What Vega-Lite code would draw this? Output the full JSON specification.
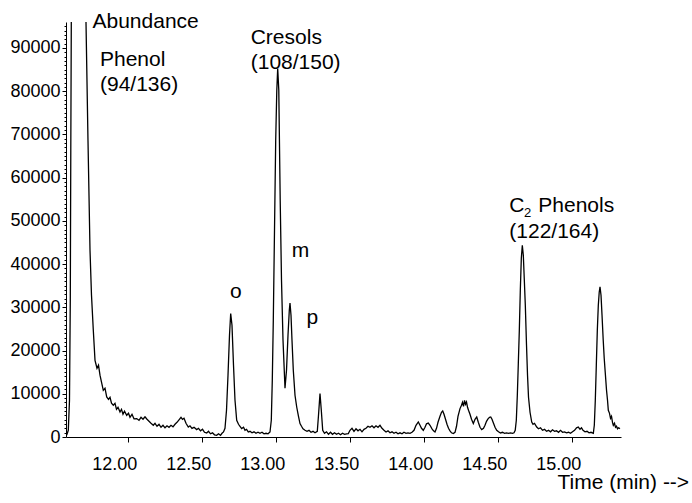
{
  "$schema": "https://vega.github.io/schema/vega-lite/v6.json",
  "width": 555,
  "height": 415,
  "autosize": {"type": "none"},
  "padding": {"left": 66, "top": 22, "right": 71, "bottom": 66},
  "background": "white",
  "config": {"view": {"stroke": null}, "font": "Liberation Sans"},
  "layer": [
    {
      "data": {"values": [
        {"time":11.58,"abundance":160},{"time":11.5868,"abundance":620},{"time":11.5955,"abundance":1550},{"time":11.6036,"abundance":8500},{"time":11.609,"abundance":31600},{"time":11.6124,"abundance":66300},{"time":11.6158,"abundance":96000},{"time":11.6172,"abundance":110000},{"time":11.6611,"abundance":300000},{"time":11.7118,"abundance":110000},{"time":11.7151,"abundance":96000},{"time":11.7286,"abundance":68600},{"time":11.7422,"abundance":43200},{"time":11.7523,"abundance":32800},{"time":11.7645,"abundance":24700},{"time":11.776,"abundance":17700},{"time":11.7895,"abundance":15900},{"time":11.7996,"abundance":16600},{"time":11.8097,"abundance":14300},{"time":11.8199,"abundance":12700},{"time":11.832,"abundance":10800},{"time":11.8435,"abundance":11300},{"time":11.855,"abundance":9260},{"time":11.8672,"abundance":8720},{"time":11.8773,"abundance":9190},{"time":11.8874,"abundance":7800},{"time":11.8996,"abundance":7340},{"time":11.9111,"abundance":7800},{"time":11.9212,"abundance":6410},{"time":11.9314,"abundance":6870},{"time":11.9449,"abundance":5790},{"time":11.955,"abundance":6410},{"time":11.9651,"abundance":5250},{"time":11.9753,"abundance":5950},{"time":11.9901,"abundance":5020},{"time":12.0023,"abundance":5480},{"time":12.0124,"abundance":4560},{"time":12.0259,"abundance":5250},{"time":12.0395,"abundance":4210},{"time":12.0577,"abundance":4260},{"time":12.0732,"abundance":3860},{"time":12.0868,"abundance":4560},{"time":12.1003,"abundance":4100},{"time":12.1138,"abundance":4670},{"time":12.1273,"abundance":4100},{"time":12.1408,"abundance":3630},{"time":12.1543,"abundance":3170},{"time":12.1699,"abundance":2710},{"time":12.1814,"abundance":3170},{"time":12.1949,"abundance":2480},{"time":12.2084,"abundance":2940},{"time":12.2219,"abundance":2240},{"time":12.2354,"abundance":2710},{"time":12.2489,"abundance":2130},{"time":12.2624,"abundance":2590},{"time":12.2759,"abundance":2240},{"time":12.2895,"abundance":2710},{"time":12.303,"abundance":2360},{"time":12.3165,"abundance":2940},{"time":12.33,"abundance":3400},{"time":12.3435,"abundance":3980},{"time":12.357,"abundance":4560},{"time":12.3672,"abundance":4100},{"time":12.3773,"abundance":4330},{"time":12.3908,"abundance":3170},{"time":12.4063,"abundance":2310},{"time":12.4178,"abundance":2590},{"time":12.4314,"abundance":2010},{"time":12.4449,"abundance":2240},{"time":12.4631,"abundance":1710},{"time":12.4753,"abundance":2010},{"time":12.4888,"abundance":1430},{"time":12.5023,"abundance":1780},{"time":12.5158,"abundance":1090},{"time":12.5307,"abundance":930},{"time":12.5429,"abundance":1320},{"time":12.5564,"abundance":740},{"time":12.5699,"abundance":970},{"time":12.5834,"abundance":510},{"time":12.5982,"abundance":390},{"time":12.6104,"abundance":740},{"time":12.6239,"abundance":390},{"time":12.6341,"abundance":860},{"time":12.6442,"abundance":1160},{"time":12.6543,"abundance":2010},{"time":12.6645,"abundance":6180},{"time":12.6746,"abundance":14280},{"time":12.6847,"abundance":23530},{"time":12.6928,"abundance":28550},{"time":12.7016,"abundance":25850},{"time":12.7118,"abundance":16590},{"time":12.7219,"abundance":8490},{"time":12.7334,"abundance":3860},{"time":12.7456,"abundance":2940},{"time":12.7557,"abundance":2480},{"time":12.7672,"abundance":1940},{"time":12.7794,"abundance":2240},{"time":12.7895,"abundance":1550},{"time":12.7997,"abundance":1780},{"time":12.8118,"abundance":1160},{"time":12.8232,"abundance":1320},{"time":12.8368,"abundance":970},{"time":12.8503,"abundance":1200},{"time":12.8638,"abundance":860},{"time":12.8773,"abundance":1090},{"time":12.8908,"abundance":860},{"time":12.9043,"abundance":1090},{"time":12.9178,"abundance":740},{"time":12.9314,"abundance":860},{"time":12.9449,"abundance":740},{"time":12.9584,"abundance":1160},{"time":12.9672,"abundance":3860},{"time":12.9739,"abundance":13120},{"time":12.9807,"abundance":27000},{"time":12.9888,"abundance":47830},{"time":12.9969,"abundance":68660},{"time":13.0043,"abundance":80230},{"time":13.0104,"abundance":85250},{"time":13.0178,"abundance":80230},{"time":13.0273,"abundance":54770},{"time":13.0361,"abundance":36260},{"time":13.0463,"abundance":22380},{"time":13.0597,"abundance":11270},{"time":13.0699,"abundance":15430},{"time":13.08,"abundance":23530},{"time":13.0888,"abundance":29320},{"time":13.0935,"abundance":31010},{"time":13.1003,"abundance":28160},{"time":13.107,"abundance":22380},{"time":13.1158,"abundance":15430},{"time":13.1273,"abundance":9650},{"time":13.1388,"abundance":6940},{"time":13.1509,"abundance":4790},{"time":13.1611,"abundance":3100},{"time":13.1712,"abundance":2480},{"time":13.1814,"abundance":1900},{"time":13.1949,"abundance":1550},{"time":13.2084,"abundance":1320},{"time":13.2219,"abundance":1550},{"time":13.2354,"abundance":1090},{"time":13.2489,"abundance":1320},{"time":13.2624,"abundance":970},{"time":13.278,"abundance":1320},{"time":13.2861,"abundance":5020},{"time":13.2962,"abundance":10040},{"time":13.305,"abundance":6180},{"time":13.3145,"abundance":1550},{"time":13.3267,"abundance":860},{"time":13.3402,"abundance":1200},{"time":13.3537,"abundance":620},{"time":13.3672,"abundance":1090},{"time":13.3807,"abundance":620},{"time":13.3943,"abundance":970},{"time":13.4078,"abundance":620},{"time":13.4213,"abundance":860},{"time":13.4348,"abundance":510},{"time":13.4483,"abundance":860},{"time":13.4618,"abundance":620},{"time":13.4753,"abundance":740},{"time":13.4875,"abundance":790},{"time":13.4989,"abundance":1550},{"time":13.5124,"abundance":2010},{"time":13.5259,"abundance":1320},{"time":13.5395,"abundance":1900},{"time":13.553,"abundance":1430},{"time":13.5665,"abundance":1780},{"time":13.58,"abundance":1200},{"time":13.5935,"abundance":1780},{"time":13.607,"abundance":2010},{"time":13.6205,"abundance":2480},{"time":13.6341,"abundance":2240},{"time":13.6476,"abundance":2590},{"time":13.6611,"abundance":2130},{"time":13.6746,"abundance":2590},{"time":13.6881,"abundance":2240},{"time":13.7016,"abundance":2710},{"time":13.7151,"abundance":2010},{"time":13.7286,"abundance":1550},{"time":13.7422,"abundance":1160},{"time":13.7557,"abundance":1430},{"time":13.7692,"abundance":970},{"time":13.7827,"abundance":1200},{"time":13.7962,"abundance":860},{"time":13.8097,"abundance":1090},{"time":13.8232,"abundance":740},{"time":13.8368,"abundance":970},{"time":13.8503,"abundance":740},{"time":13.8638,"abundance":1090},{"time":13.8773,"abundance":860},{"time":13.8908,"abundance":930},{"time":13.9043,"abundance":860},{"time":13.9178,"abundance":1090},{"time":13.9314,"abundance":1550},{"time":13.9449,"abundance":2710},{"time":13.9604,"abundance":3470},{"time":13.9719,"abundance":2710},{"time":13.982,"abundance":2010},{"time":13.9942,"abundance":1550},{"time":14.0057,"abundance":2240},{"time":14.0159,"abundance":3050},{"time":14.028,"abundance":3240},{"time":14.0395,"abundance":2710},{"time":14.053,"abundance":1900},{"time":14.0632,"abundance":1430},{"time":14.0732,"abundance":1160},{"time":14.0834,"abundance":2010},{"time":14.0935,"abundance":3400},{"time":14.107,"abundance":4790},{"time":14.1172,"abundance":5720},{"time":14.1253,"abundance":6020},{"time":14.1341,"abundance":5250},{"time":14.1443,"abundance":4100},{"time":14.1543,"abundance":2940},{"time":14.1645,"abundance":2010},{"time":14.1746,"abundance":1430},{"time":14.1847,"abundance":970},{"time":14.197,"abundance":790},{"time":14.2084,"abundance":1090},{"time":14.2186,"abundance":2480},{"time":14.2286,"abundance":4790},{"time":14.2422,"abundance":6570},{"time":14.2523,"abundance":7340},{"time":14.2591,"abundance":8030},{"time":14.2659,"abundance":7100},{"time":14.2727,"abundance":8490},{"time":14.2795,"abundance":7570},{"time":14.2862,"abundance":8100},{"time":14.293,"abundance":6870},{"time":14.2997,"abundance":6180},{"time":14.3097,"abundance":5250},{"time":14.32,"abundance":4100},{"time":14.3322,"abundance":3100},{"time":14.3436,"abundance":4100},{"time":14.3551,"abundance":4630},{"time":14.3659,"abundance":3400},{"time":14.3774,"abundance":2240},{"time":14.3889,"abundance":1710},{"time":14.401,"abundance":2010},{"time":14.4111,"abundance":2710},{"time":14.4213,"abundance":3630},{"time":14.4314,"abundance":4210},{"time":14.4416,"abundance":4560},{"time":14.4497,"abundance":4630},{"time":14.4584,"abundance":4100},{"time":14.4686,"abundance":3170},{"time":14.4788,"abundance":2240},{"time":14.4902,"abundance":1550},{"time":14.5024,"abundance":1200},{"time":14.5159,"abundance":930},{"time":14.5294,"abundance":1090},{"time":14.543,"abundance":860},{"time":14.5565,"abundance":970},{"time":14.57,"abundance":860},{"time":14.5835,"abundance":970},{"time":14.597,"abundance":860},{"time":14.6072,"abundance":970},{"time":14.6153,"abundance":1550},{"time":14.6227,"abundance":3860},{"time":14.6295,"abundance":9650},{"time":14.6362,"abundance":16990},{"time":14.643,"abundance":24690},{"time":14.6497,"abundance":33950},{"time":14.6565,"abundance":41350},{"time":14.6632,"abundance":44360},{"time":14.67,"abundance":42050},{"time":14.6768,"abundance":36260},{"time":14.6835,"abundance":30480},{"time":14.6916,"abundance":21220},{"time":14.6984,"abundance":14280},{"time":14.7051,"abundance":9190},{"time":14.7153,"abundance":5720},{"time":14.7268,"abundance":3470},{"time":14.7355,"abundance":2940},{"time":14.7457,"abundance":3170},{"time":14.7605,"abundance":2310},{"time":14.7727,"abundance":1900},{"time":14.7862,"abundance":2130},{"time":14.7997,"abundance":1550},{"time":14.8132,"abundance":1780},{"time":14.8268,"abundance":1320},{"time":14.8403,"abundance":1550},{"time":14.8538,"abundance":1200},{"time":14.8673,"abundance":1670},{"time":14.8808,"abundance":1320},{"time":14.8943,"abundance":1430},{"time":14.9078,"abundance":1090},{"time":14.9214,"abundance":1550},{"time":14.9349,"abundance":1090},{"time":14.9484,"abundance":1200},{"time":14.9619,"abundance":970},{"time":14.9754,"abundance":1090},{"time":14.9889,"abundance":860},{"time":15.0024,"abundance":1200},{"time":15.016,"abundance":1550},{"time":15.0295,"abundance":2130},{"time":15.0416,"abundance":2310},{"time":15.0531,"abundance":1780},{"time":15.0632,"abundance":2130},{"time":15.0734,"abundance":1550},{"time":15.0869,"abundance":1200},{"time":15.1004,"abundance":1320},{"time":15.1139,"abundance":970},{"time":15.1274,"abundance":1090},{"time":15.143,"abundance":860},{"time":15.1497,"abundance":2710},{"time":15.1564,"abundance":8490},{"time":15.1632,"abundance":16590},{"time":15.17,"abundance":24690},{"time":15.1767,"abundance":30480},{"time":15.1828,"abundance":33480},{"time":15.1882,"abundance":34710},{"time":15.195,"abundance":32790},{"time":15.2018,"abundance":28160},{"time":15.2099,"abundance":22380},{"time":15.2166,"abundance":18210},{"time":15.2234,"abundance":14970},{"time":15.2322,"abundance":10810},{"time":15.2389,"abundance":8490},{"time":15.2443,"abundance":6180},{"time":15.2524,"abundance":5480},{"time":15.2591,"abundance":4330},{"time":15.2659,"abundance":4790},{"time":15.2726,"abundance":3400},{"time":15.2781,"abundance":2710},{"time":15.2862,"abundance":3170},{"time":15.2929,"abundance":2240},{"time":15.2997,"abundance":2480},{"time":15.3064,"abundance":1900},{"time":15.3132,"abundance":2130},{"time":15.3233,"abundance":1940}
      ]},
      "mark": {"type": "line", "color": "black", "strokeWidth": 1.3, "clip": true},
      "encoding": {
        "x": {
          "field": "time", "type": "quantitative",
          "scale": {"domain": [11.58, 15.33], "nice": false, "zero": false},
          "axis": {
            "values": [12, 12.5, 13, 13.5, 14, 14.5, 15],
            "tickCount": 100,
            "format": ".2f",
            "grid": false,
            "labelFont": "Liberation Sans", "labelFontSize": 18, "labelColor": "black",
            "labelOffset": -14, "labelPadding": 27, "labelBaseline": "alphabetic",
            "labelFlush": false, "labelOverlap": false,
            "tickSize": 5, "tickColor": "black", "tickWidth": 1,
            "domainColor": "black", "domainWidth": 1,
            "title": "Time (min) -->",
            "titleFont": "Liberation Sans", "titleFontSize": 21, "titleFontWeight": "normal", "titleColor": "black",
            "titleX": 491, "titleY": 51, "titleAlign": "left", "titleBaseline": "alphabetic"
          }
        },
        "y": {
          "field": "abundance", "type": "quantitative",
          "scale": {"domain": [0, 96000], "nice": false, "zero": true},
          "axis": {
            "values": [0,1000,2000,3000,4000,5000,6000,7000,8000,9000,10000,11000,12000,13000,14000,15000,16000,17000,18000,19000,20000,21000,22000,23000,24000,25000,26000,27000,28000,29000,30000,31000,32000,33000,34000,35000,36000,37000,38000,39000,40000,41000,42000,43000,44000,45000,46000,47000,48000,49000,50000,51000,52000,53000,54000,55000,56000,57000,58000,59000,60000,61000,62000,63000,64000,65000,66000,67000,68000,69000,70000,71000,72000,73000,74000,75000,76000,77000,78000,79000,80000,81000,82000,83000,84000,85000,86000,87000,88000,89000,90000,91000,92000,93000,94000,95000],
            "tickCount": 1000,
            "labelExpr": "datum.value % 10000 === 0 ? format(datum.value, 'd') : ''",
            "grid": false,
            "labelFont": "Liberation Sans", "labelFontSize": 18, "labelColor": "black",
            "labelPadding": 2, "labelOverlap": false, "labelFlush": false,
            "tickSize": {"condition": {"test": "datum.value % 10000 === 0", "value": 4}, "value": 2},
            "tickColor": "black", "tickWidth": 1,
            "domainColor": "black", "domainWidth": 1,
            "title": "Abundance",
            "titleFont": "Liberation Sans", "titleFontSize": 21, "titleFontWeight": "normal", "titleColor": "black",
            "titleAngle": 0, "titleX": 26, "titleY": 5, "titleAlign": "left", "titleBaseline": "alphabetic"
          }
        }
      }
    },
    {
      "data": {"values": [
        {"time": 11.8097, "abundance": 85890, "label": "Phenol"},
        {"time": 11.8097, "abundance": 80110, "label": "(94/136)"},
        {"time": 12.828, "abundance": 90910, "label": "Cresols"},
        {"time": 12.828, "abundance": 85060, "label": "(108/150)"},
        {"time": 14.5753, "abundance": 51980, "label": "C"},
        {"time": 14.7712, "abundance": 51980, "label": "Phenols"},
        {"time": 14.5753, "abundance": 45970, "label": "(122/164)"},
        {"time": 12.6881, "abundance": 32100, "label": "o"},
        {"time": 13.105, "abundance": 41570, "label": "m"},
        {"time": 13.2057, "abundance": 26140, "label": "p"}
      ]},
      "mark": {"type": "text", "align": "left", "baseline": "alphabetic", "font": "Liberation Sans", "fontSize": 21, "color": "black"},
      "encoding": {
        "x": {"field": "time", "type": "quantitative"},
        "y": {"field": "abundance", "type": "quantitative"},
        "text": {"field": "label"}
      }
    },
    {
      "data": {"values": [
        {"time": 14.6746, "abundance": 50960, "label": "2"}
      ]},
      "mark": {"type": "text", "align": "left", "baseline": "alphabetic", "font": "Liberation Sans", "fontSize": 13, "color": "black"},
      "encoding": {
        "x": {"field": "time", "type": "quantitative"},
        "y": {"field": "abundance", "type": "quantitative"},
        "text": {"field": "label"}
      }
    }
  ]
}
